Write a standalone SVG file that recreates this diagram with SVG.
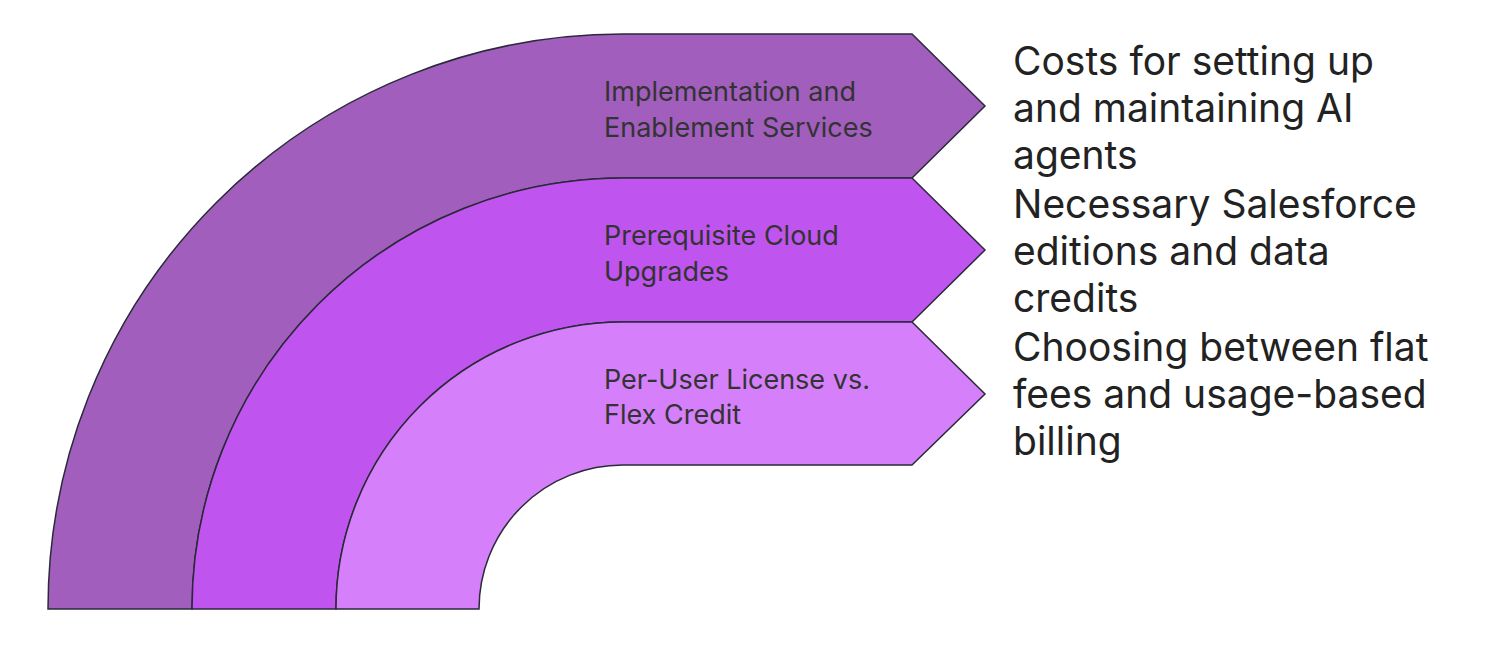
<svg xmlns="http://www.w3.org/2000/svg" width="1512" height="658" viewBox="0 0 1512 658">
<style>
.b{stroke:#2a2a3a;stroke-width:1.5}
.l{font-family:Inter,"Liberation Sans",sans-serif;font-size:27px;fill:#333}
.r{font-family:Inter,"Liberation Sans",sans-serif;font-size:39px;fill:#222}
</style>
<rect width="1512" height="658" fill="#fff"/>
<g id="band1">
<path class="b" fill="#A15EBD" d="M48,609 A575,575 0 0 1 623,34 L912,34 L985,106 L912,178 L623,178 A431,431 0 0 0 192,609 Z"/>
<text class="l" x="604" y="101">Implementation and</text>
<text class="l" x="604" y="137">Enablement Services</text>
</g>
<g id="band2">
<path class="b" fill="#BF55EE" d="M192,609 A431,431 0 0 1 623,178 L912,178 L985,250 L912,322 L623,322 A287,287 0 0 0 336,609 Z"/>
<text class="l" x="604" y="245">Prerequisite Cloud</text>
<text class="l" x="604" y="281">Upgrades</text>
</g>
<g id="band3">
<path class="b" fill="#D580FA" d="M336,609 A287,287 0 0 1 623,322 L912,322 L985,394 L912,465 L623,465 A144,144 0 0 0 479,609 Z"/>
<text class="l" x="604" y="389">Per-User License vs.</text>
<text class="l" x="604" y="424">Flex Credit</text>
</g>
<g id="desc">
<text class="r" x="1013" y="75">Costs for setting up</text>
<text class="r" x="1013" y="122">and maintaining AI</text>
<text class="r" x="1013" y="169">agents</text>
<text class="r" x="1013" y="218">Necessary Salesforce</text>
<text class="r" x="1013" y="265">editions and data</text>
<text class="r" x="1013" y="312">credits</text>
<text class="r" x="1013" y="361">Choosing between flat</text>
<text class="r" x="1013" y="408">fees and usage-based</text>
<text class="r" x="1013" y="455">billing</text>
</g>
<g id="connectors"/>
</svg>
